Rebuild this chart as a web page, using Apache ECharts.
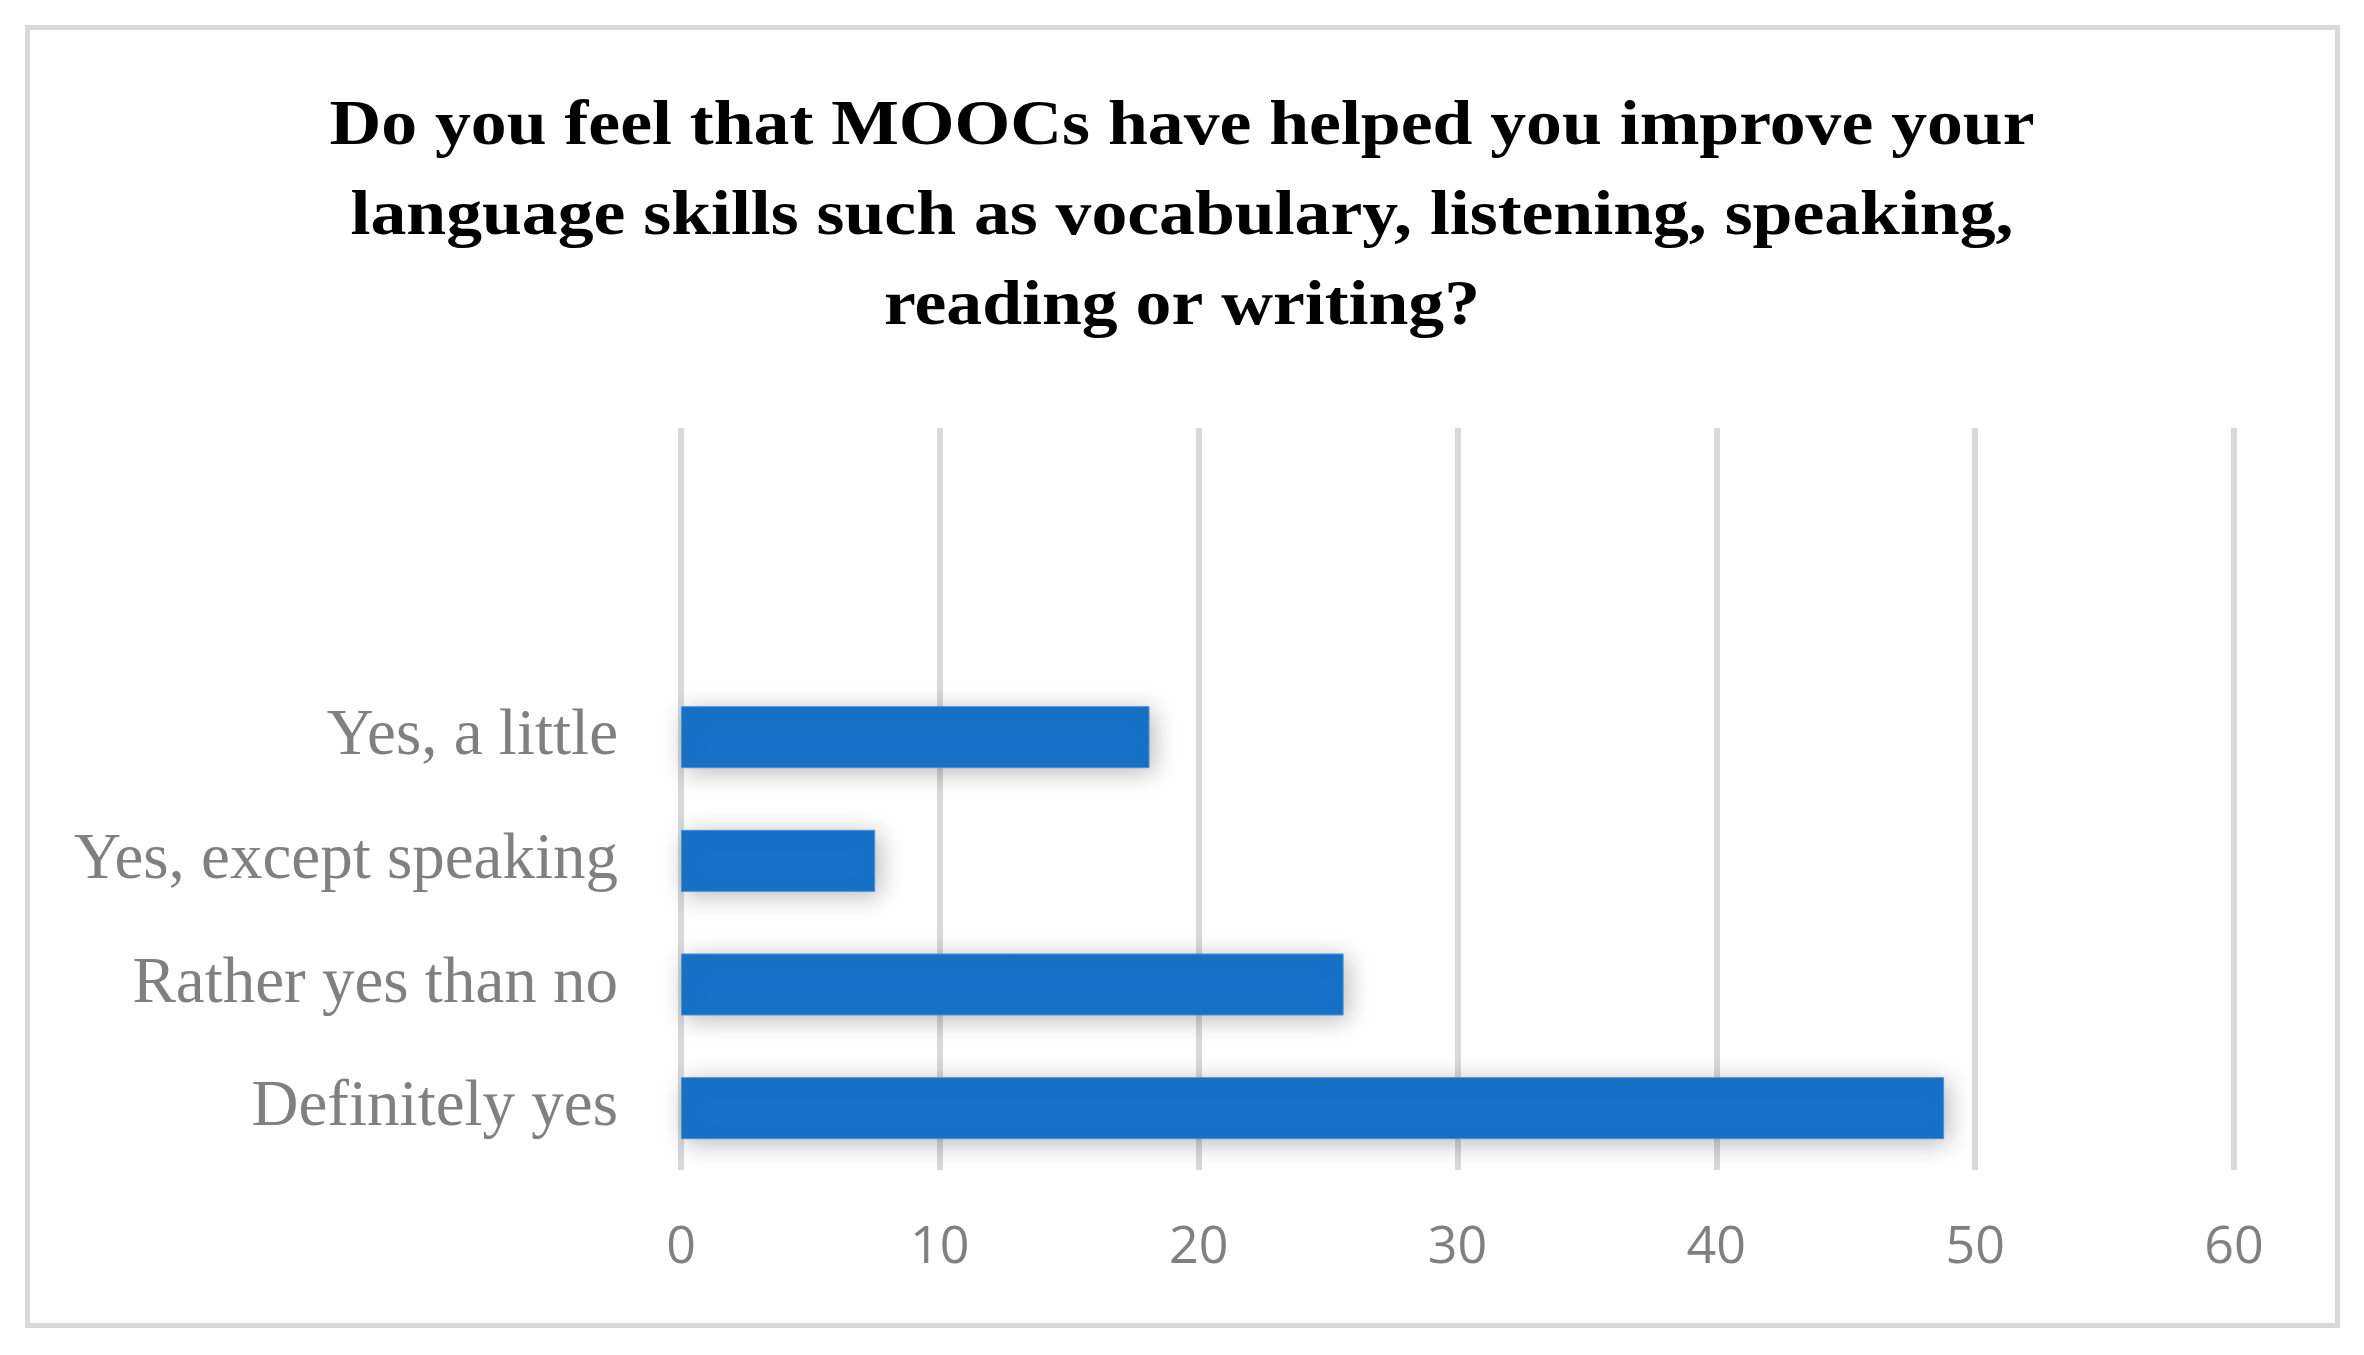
<!DOCTYPE html>
<html>
<head>
<meta charset="utf-8">
<script src="https://cdn.jsdelivr.net/npm/echarts@6/dist/echarts.min.js"></script>
<style>html,body{margin:0;padding:0;background:#fff}#c{width:2364px;height:1355px}</style>
</head>
<body>
<div id="c"></div>
<script>
const titleText = 'Do you feel that MOOCs have helped you improve your\nlanguage skills such as vocabulary, listening, speaking,\nreading or writing?';
const categories = ['Definitely yes', 'Rather yes than no', 'Yes, except speaking', 'Yes, a little', '', ''];
const values = [48.8, 25.6, 7.5, 18.1, null, null];
const xTicks = { min: 0, max: 60, interval: 10 };

const chart = echarts.init(document.getElementById('c'));
chart.setOption({
  backgroundColor: '#ffffff',
  animation: false,
  graphic: [{
    type: 'rect',
    shape: { x: 27.5, y: 27.5, width: 2310, height: 1298 },
    style: { fill: 'none', stroke: '#d9d9d9', lineWidth: 5 },
    silent: true
  }, {
    type: 'text',
    x: 1182,
    y: 82,
    scaleX: 1.12,
    silent: true,
    style: {
      text: titleText,
      fontFamily: 'Liberation Serif',
      fontWeight: 'bold',
      fontSize: 64,
      lineHeight: 90,
      fill: '#000000',
      align: 'center',
      verticalAlign: 'top'
    }
  }],
  grid: { left: 681, right: 130, top: 428, bottom: 185, containLabel: false },
  xAxis: {
    type: 'value',
    min: xTicks.min, max: xTicks.max, interval: xTicks.interval,
    axisLine: { show: false },
    axisTick: { show: false },
    splitLine: { show: true, lineStyle: { color: '#d9d9d9', width: 6 } },
    axisLabel: { fontFamily: 'Open Sans', fontSize: 52, color: '#808080', margin: 52 }
  },
  yAxis: {
    type: 'category',
    data: categories,
    axisLine: { show: false },
    axisTick: { show: false },
    splitLine: { show: false },
    axisLabel: { fontFamily: 'Liberation Serif', fontSize: 65, color: '#808080', margin: 63 }
  },
  series: [{
    type: 'bar',
    data: values,
    barWidth: 62,
    itemStyle: {
      color: '#1772c8',
      borderColor: '#4a8fd6',
      borderWidth: 1,
      shadowColor: 'rgba(0,0,0,0.28)',
      shadowBlur: 24,
      shadowOffsetX: 4,
      shadowOffsetY: 4
    }
  }]
});
</script>
</body>
</html>
